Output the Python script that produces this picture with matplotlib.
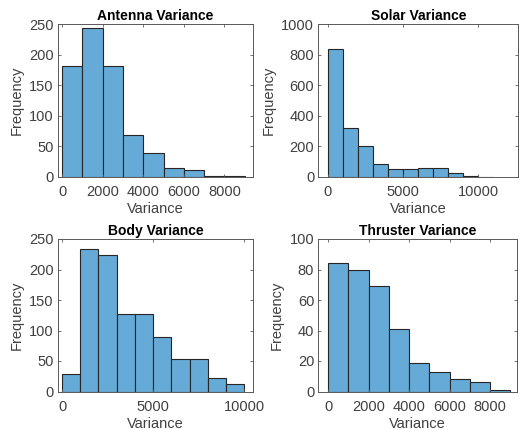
import matplotlib
matplotlib.use("Agg")
import matplotlib.pyplot as plt
import numpy as np

plt.rcParams['font.family'] = ['Liberation Sans', 'DejaVu Sans']

# Data (bin width 1000, starting at 0)
antenna_counts = [181, 243, 181, 68, 39, 14, 12, 1, 2]
solar_counts = [837, 321, 200, 87, 55, 50, 62, 57, 29, 9, 3]
body_counts = [28, 233, 223, 127, 127, 90, 54, 53, 22, 13]
thruster_counts = [84, 80, 69, 41, 19, 13, 8, 6, 1]
bin_width = 1000

titles = ['Antenna Variance', 'Solar Variance', 'Body Variance', 'Thruster Variance']
all_counts = [antenna_counts, solar_counts, body_counts, thruster_counts]
xticks = [[0, 2000, 4000, 6000, 8000], [0, 5000, 10000], [0, 5000, 10000], [0, 2000, 4000, 6000, 8000]]
yticks = [[0, 50, 100, 150, 200, 250], [0, 200, 400, 600, 800, 1000],
          [0, 50, 100, 150, 200, 250], [0, 20, 40, 60, 80, 100]]
xlims = [(-200, 9420), (-620, 12660), (-220, 10500), (-480, 9340)]

positions = [
    [58/519, 1-177/430, 195.3/519, 153/430],
    [318.3/519, 1-177/430, 200/519, 153/430],
    [58/519, 1-391.5/430, 195.3/519, 152.5/430],
    [318.3/519, 1-391.5/430, 199/519, 152.5/430],
]

face = (0.4, 0.668, 0.845)
edge = (0.15, 0.15, 0.15)
axcol = '0.35'

fig = plt.figure(figsize=(5.19, 4.30), dpi=100)
for i in range(4):
    ax = fig.add_axes(positions[i])
    counts = np.array(all_counts[i])
    edges = np.arange(len(counts) + 1) * bin_width
    ax.bar(edges[:-1], counts, width=bin_width, align='edge', color=face,
           edgecolor=edge, linewidth=0.8)
    ax.set_xlim(*xlims[i])
    ax.set_ylim(yticks[i][0], yticks[i][-1])
    ax.set_xticks(xticks[i])
    ax.set_yticks(yticks[i])
    ax.set_title(titles[i], fontsize=10, fontweight='bold', pad=3)
    ax.set_xlabel('Variance', fontsize=10.5, color='0.25', labelpad=2)
    ax.set_ylabel('Frequency', fontsize=10.5, color='0.25', labelpad=4)
    ax.tick_params(direction='in', length=2.5, width=0.6, top=True, right=True,
                   labelsize=10.5, colors=axcol, labelcolor='0.25', pad=3)
    ax.tick_params(axis='x', pad=6)
    for s in ax.spines.values():
        s.set_color(axcol)
        s.set_linewidth(0.7)

fig.savefig('out.png', dpi=100)
